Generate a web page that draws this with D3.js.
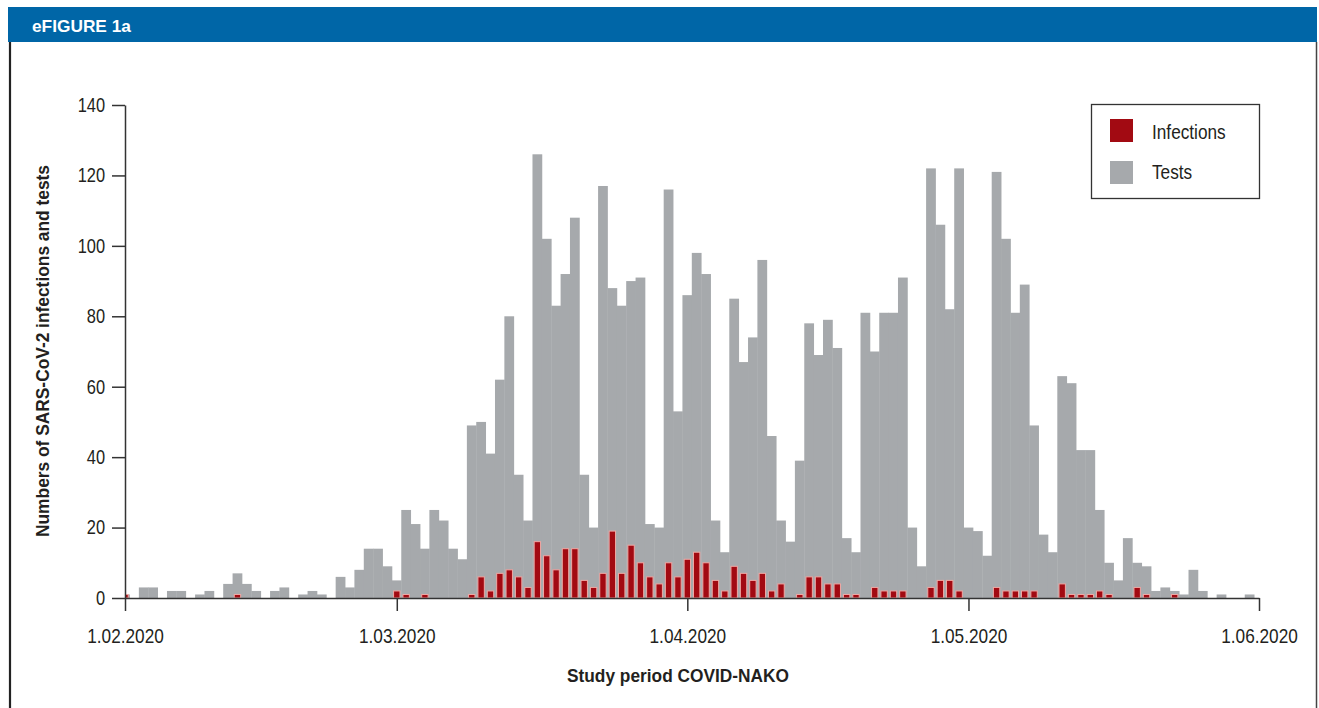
<!DOCTYPE html>
<html>
<head>
<meta charset="utf-8">
<script src="https://cdn.jsdelivr.net/npm/d3@7"></script>
<style>
  html, body { margin: 0; padding: 0; background: #fff; }
  svg { display: block; }
  text { font-family: "Liberation Sans", Arial, sans-serif; }
</style>
</head>
<body>
<svg id="chart" width="1319" height="708"></svg>
<script>
// Daily counts from 1 Feb 2020 to 1 Jun 2020 (one entry per day)
const firstDay = "2020-02-01";
const lastDay = "2020-06-01";

const tests = [
  1, 0, 3, 3, 0, 2, 2, 0, 1, 2, 0, 4, 7, 4, 2, 0, 2, 3, 0, 1, 2, 1, 0, 6, 3, 8, 14, 14, 9,      // February
  5, 25, 21, 14, 25, 22, 14, 11, 49, 50, 41, 62, 80, 35, 22, 126, 102, 83, 92, 108, 35, 20,
  117, 88, 83, 90, 91, 21, 20, 116, 53,                                                        // March
  86, 98, 92, 22, 13, 85, 67, 74, 96, 46, 22, 16, 39, 78, 69, 79, 71, 17, 13, 81, 70, 81, 81,
  91, 20, 9, 122, 106, 82, 122,                                                                // April
  20, 19, 12, 121, 102, 81, 89, 49, 18, 13, 63, 61, 42, 42, 25, 10, 5, 17, 10, 9, 2, 3, 2, 1,
  8, 2, 0, 1, 0, 0, 1,                                                                         // May
  0                                                                                            // 1 June
];

const infections = [
  1, 0, 0, 0, 0, 0, 0, 0, 0, 0, 0, 0, 1, 0, 0, 0, 0, 0, 0, 0, 0, 0, 0, 0, 0, 0, 0, 0, 0,        // February
  2, 1, 0, 1, 0, 0, 0, 0, 1, 6, 2, 7, 8, 6, 3, 16, 12, 8, 14, 14, 5, 3, 7, 19, 7, 15, 10, 6,
  4, 10, 6,                                                                                    // March
  11, 13, 10, 5, 2, 9, 7, 5, 7, 2, 4, 0, 1, 6, 6, 4, 4, 1, 1, 0, 3, 2, 2, 2, 0, 0, 3, 5, 5, 2, // April
  0, 0, 0, 3, 2, 2, 2, 2, 0, 0, 4, 1, 1, 1, 2, 1, 0, 0, 3, 1, 0, 0, 1, 0, 0, 0, 0, 0, 0, 0, 0, // May
  0                                                                                            // 1 June
];

const tickDates = ["2020-02-01", "2020-03-01", "2020-04-01", "2020-05-01", "2020-06-01"];
const tickLabels = ["1.02.2020", "1.03.2020", "1.04.2020", "1.05.2020", "1.06.2020"];
const yTicks = [0, 20, 40, 60, 80, 100, 120, 140];

const seriesNames = ["Infections", "Tests"];
const seriesColors = ["#a20a12", "#a6a9ac"];

const parse = d3.utcParse("%Y-%m-%d");
const days = d3.utcDay.range(parse(firstDay), d3.utcDay.offset(parse(lastDay), 1));
const rows = days.map((date, i) => ({ date, tests: tests[i], infections: infections[i] }));

const ink = "#231f20";

// Squeeze a text horizontally so it reads like a narrow typeface
function narrow(sel, factor) {
  sel.each(function () {
    const len = this.getComputedTextLength();
    d3.select(this).attr("textLength", len * factor).attr("lengthAdjust", "spacingAndGlyphs");
  });
}
// Fit a text to a set run length
function fitTo(sel, len) {
  sel.attr("textLength", len).attr("lengthAdjust", "spacingAndGlyphs");
}

const svg = d3.select("#chart");

// Frame: header band and side rules
svg.append("rect").attr("x", 8).attr("y", 7).attr("width", 1309).attr("height", 35).attr("fill", "#0066a7");
svg.append("text").attr("x", 32).attr("y", 31.5)
  .attr("fill", "#fff").attr("font-size", 17.3).attr("font-weight", "bold")
  .text("eFIGURE 1a");
svg.append("line").attr("x1", 10).attr("x2", 10).attr("y1", 42).attr("y2", 708)
  .attr("stroke", "#222").attr("stroke-width", 2.2);
svg.append("line").attr("x1", 1316.5).attr("x2", 1316.5).attr("y1", 42).attr("y2", 708)
  .attr("stroke", "#444").attr("stroke-width", 1.5);

const x = d3.scaleUtc().domain([parse(firstDay), parse(lastDay)]).range([125, 1259]);
const y = d3.scaleLinear().domain([0, 140]).range([598, 105]);

svg.append("defs").append("clipPath").attr("id", "plot")
  .append("rect").attr("x", 125).attr("y", 90).attr("width", 1140).attr("height", 510);

const plot = svg.append("g").attr("clip-path", "url(#plot)");

const dayWidth = d => x(d3.utcDay.offset(d, 1)) - x(d);

// Tests: contiguous grey columns centred on each day
plot.append("g").selectAll("rect")
  .data(rows.filter(r => r.tests > 0))
  .join("rect")
  .attr("x", r => x(r.date) - dayWidth(r.date) / 2 - 0.2)
  .attr("width", r => dayWidth(r.date) + 0.4)
  .attr("y", r => y(r.tests))
  .attr("height", r => y(0) - y(r.tests))
  .attr("fill", seriesColors[1]);

// Infections: narrower red columns with a light rim
const redW = 6.4;
plot.append("g").selectAll("rect")
  .data(rows.filter(r => r.infections > 0))
  .join("rect")
  .attr("x", r => x(r.date) - redW / 2)
  .attr("width", redW)
  .attr("y", r => y(r.infections))
  .attr("height", r => y(0) - y(r.infections))
  .attr("fill", seriesColors[0])
  .attr("stroke", "#f0a8a4")
  .attr("stroke-width", 1);

// Axes
const xAxis = d3.axisBottom(x)
  .tickValues(tickDates.map(parse))
  .tickFormat((d, i) => tickLabels[i])
  .tickSize(13).tickSizeOuter(0).tickPadding(17);
const gx = svg.append("g").attr("transform", `translate(0,${y(0)})`).call(xAxis);

const yAxis = d3.axisLeft(y).tickValues(yTicks).tickSize(13).tickSizeOuter(0).tickPadding(7);
const gy = svg.append("g").attr("transform", "translate(125,0)").call(yAxis);

[gx, gy].forEach(g => {
  g.select(".domain").attr("stroke", "#333").attr("stroke-width", 1.5);
  g.selectAll(".tick line").attr("stroke", "#333").attr("stroke-width", 1.5);
  g.selectAll(".tick text").attr("fill", ink)
    .attr("font-family", "'Liberation Sans', Arial, sans-serif");
});
gx.selectAll(".tick text").attr("font-size", 21).call(narrow, 0.82);
gy.selectAll(".tick text").attr("font-size", 20).call(narrow, 0.82);

// Axis titles
svg.append("text")
  .attr("transform", "translate(49,351) rotate(-90)")
  .attr("text-anchor", "middle").attr("font-size", 19).attr("font-weight", "bold").attr("fill", ink)
  .text("Numbers of SARS-CoV-2 infections and tests").call(fitTo, 372);
svg.append("text")
  .attr("x", 678).attr("y", 682)
  .attr("text-anchor", "middle").attr("font-size", 19).attr("font-weight", "bold").attr("fill", ink)
  .text("Study period COVID-NAKO").call(fitTo, 222);

// Legend
const legend = svg.append("g");
legend.append("rect").attr("x", 1091.5).attr("y", 104.5).attr("width", 168).attr("height", 94)
  .attr("fill", "#fff").attr("stroke", "#333").attr("stroke-width", 1.3);
seriesNames.forEach((name, i) => {
  legend.append("rect").attr("x", 1110).attr("y", 119 + i * 42).attr("width", 23).attr("height", 23)
    .attr("fill", seriesColors[i]);
  legend.append("text").attr("x", 1152).attr("y", 138.5 + i * 40.5)
    .attr("font-size", 21).attr("fill", ink).text(name).call(narrow, 0.82);
});
</script>
</body>
</html>
